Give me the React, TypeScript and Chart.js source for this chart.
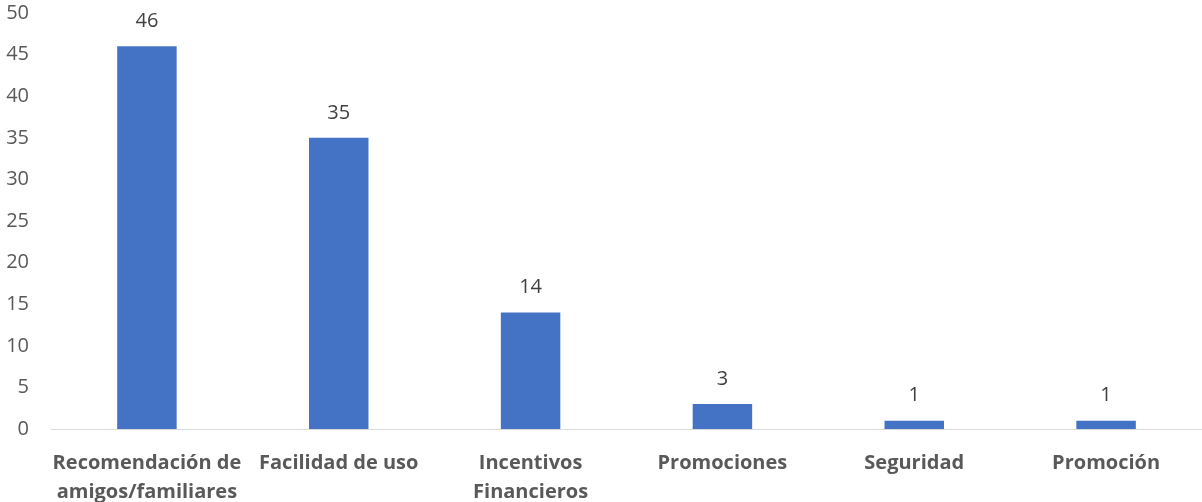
import React, { useEffect, useRef } from "react";
import { Chart, registerables } from "chart.js";

Chart.register(...registerables);

const categories: (string | string[])[] = [
  ["Recomendación de", "amigos/familiares"],
  "Facilidad de uso",
  ["Incentivos", "Financieros"],
  "Promociones",
  "Seguridad",
  "Promoción",
];
const values = [46, 35, 14, 3, 1, 1];
const yMin = 0;
const yMax = 50;
const yStep = 5;

const FONT = "'Open Sans', sans-serif";

const dataLabels = {
  id: "dataLabels",
  afterDatasetsDraw(chart: any) {
    const ctx = chart.ctx;
    const meta = chart.getDatasetMeta(0);
    ctx.save();
    ctx.font = `20px ${FONT}`;
    ctx.fillStyle = "#404040";
    ctx.textAlign = "center";
    ctx.textBaseline = "middle";
    meta.data.forEach((bar: any, i: number) => {
      ctx.fillText(String(values[i]), bar.x, bar.y - 25);
    });
    ctx.restore();
  },
};

export default function App() {
  const ref = useRef<HTMLCanvasElement | null>(null);
  useEffect(() => {
    if (!ref.current) return;
    const chart = new Chart(ref.current, {
      type: "bar",
      data: {
        labels: categories,
        datasets: [
          {
            data: values,
            backgroundColor: "#4472C4",
            barPercentage: 0.31,
            categoryPercentage: 1,
          },
        ],
      },
      options: {
        animation: false,
        responsive: false,
        maintainAspectRatio: false,
        layout: { padding: 0 },
        plugins: { legend: { display: false }, tooltip: { enabled: false } },
        scales: {
          x: {
            grid: { display: false },
            border: { display: true, color: "#d9d9d9", width: 1 },
            ticks: {
              color: "#595959",
              font: { family: FONT, size: 20, weight: "bold", lineHeight: 1.48 },
              padding: 11,
              maxRotation: 0,
              autoSkip: false,
            },
            afterFit(scale: any) {
              scale.height = 73;
            },
          },
          y: {
            min: yMin,
            max: yMax,
            grid: { display: false },
            border: { display: false },
            ticks: {
              stepSize: yStep,
              color: "#595959",
              font: { family: FONT, size: 20 },
              padding: 14,
            },
            afterFit(scale: any) {
              scale.width = 51;
              scale.paddingTop = 13;
            },
          },
        },
      },
      plugins: [dataLabels],
    });
    return () => chart.destroy();
  }, []);
  return (
    <div style={{ position: "absolute", left: 0, top: 0, width: 1202, height: 502, background: "#fff" }}>
      <canvas ref={ref} width={1202} height={502} />
    </div>
  );
}
